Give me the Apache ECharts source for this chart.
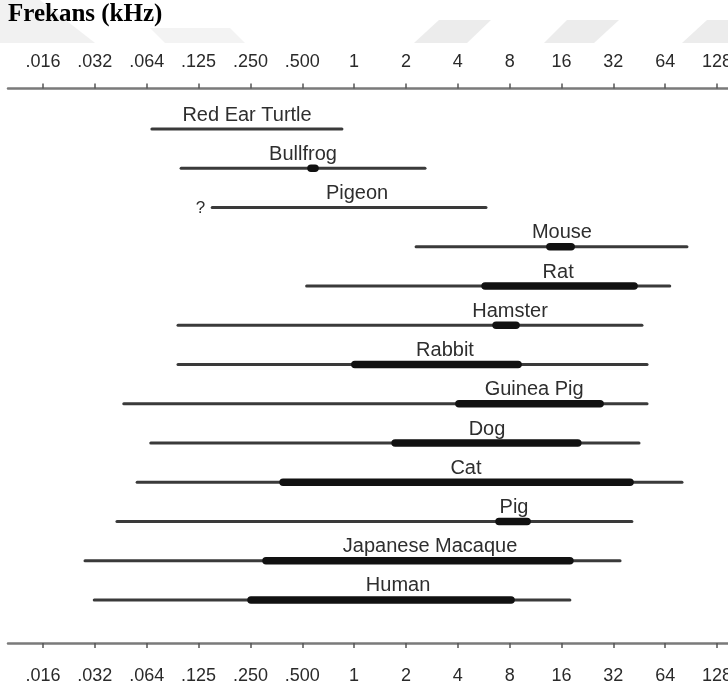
<!DOCTYPE html>
<html>
<head>
<meta charset="utf-8">
<script src="https://cdn.jsdelivr.net/npm/echarts@6/dist/echarts.min.js"></script>
<style>
html,body{margin:0;padding:0;background:#fff;}
#chart{width:728px;height:687px;}
</style>
</head>
<body>
<div id="chart"></div>
<script>
// ---- data (kHz) ----
const categories = ['Red Ear Turtle','Bullfrog','Pigeon','Mouse','Rat','Hamster','Rabbit','Guinea Pig','Dog','Cat','Pig','Japanese Macaque','Human'];
const rangeLow  = [0.067, 0.099, 0.15, 2.29, 0.53, 0.095, 0.095, 0.046, 0.066, 0.055, 0.042, 0.0274, 0.031];
const rangeHigh = [0.85, 2.58, 5.83, 85.6, 68, 46.9, 50.2, 50.2, 45.1, 80.1, 41, 35.0, 17.9];
const bestLow   = [null, 0.562, null, 13.7, 5.76, 6.67, 1.01, 4.06, 1.73, 0.387, 6.94, 0.308, 0.252];
const bestHigh  = [null, 0.593, null, 18.2, 42.2, 8.71, 8.95, 26.8, 19.9, 40.0, 10.1, 17.9, 8.15];
const labelAt   = [0.239, 0.505, 1.04, 16.1, 15.3, 8.04, 3.37, 11.1, 5.91, 4.46, 8.48, 2.76, 1.80];
const notes     = ['', '', '?', '', '', '', '', '', '', '', '', '', ''];
const tickKHz    = [0.015625, 0.03125, 0.0625, 0.125, 0.25, 0.5, 1, 2, 4, 8, 16, 32, 64, 128];
const tickLabels = ['.016', '.032', '.064', '.125', '.250', '.500', '1', '2', '4', '8', '16', '32', '64', '128'];
const titleText = 'Frekans (kHz)';

// ---- build ----
const L = v => (v == null ? NaN : Math.log2(v));
const tickPos = tickKHz.map(L);
const labelMap = {};
tickPos.forEach((p, i) => { labelMap[p.toFixed(4)] = tickLabels[i]; });

const seriesData = categories.map((c, i) => [
  L(rangeLow[i]), L(rangeHigh[i]), L(bestLow[i]), L(bestHigh[i]), L(labelAt[i]), i
]);

const axisCommon = {
  type: 'value',
  min: -6.675,
  max: 7.211,
  splitLine: { show: false },
  axisLine: { show: true, lineStyle: { color: '#7a7a7a', width: 2.5 } },
  axisTick: { show: true, length: 5, customValues: tickPos, lineStyle: { color: '#555', width: 1.5 } },
  axisLabel: {
    customValues: tickPos,
    formatter: v => labelMap[Number(v).toFixed(4)] || '',
    fontFamily: 'Liberation Sans, Arial, sans-serif',
    fontSize: 18,
    color: '#2a2a2a',
    showMaxLabel: true
  }
};

const chart = echarts.init(document.getElementById('chart'), null, { renderer: 'canvas' });
chart.setOption({
  animation: false,
  backgroundColor: '#fff',
  graphic: [
    { type: 'polygon', z: -10, silent: true, shape: { points: [[0,0],[40,0],[95,43],[0,43]] }, style: { fill: '#f1f1f1' } },
    { type: 'polygon', z: -10, silent: true, shape: { points: [[150,28],[230,28],[245,43],[165,43]] }, style: { fill: '#f3f3f3' } },
    { type: 'polygon', z: -10, silent: true, shape: { points: [[439,20],[491,20],[467,43],[414,43]] }, style: { fill: '#ececec' } },
    { type: 'polygon', z: -10, silent: true, shape: { points: [[567,20],[619,20],[594,43],[544,43]] }, style: { fill: '#ececec' } },
    { type: 'polygon', z: -10, silent: true, shape: { points: [[707,20],[740,20],[740,43],[682,43]] }, style: { fill: '#ececec' } },
    { type: 'text', left: 8, top: 2, style: { text: titleText, font: 'bold 25px "Liberation Serif", "Times New Roman", serif', fill: '#000' } }
  ],
  grid: { left: 8, right: 0, top: 109.4, bottom: 67.4, containLabel: false, outerBoundsMode: 'none' },
  xAxis: [
    Object.assign({}, axisCommon, { position: 'bottom', offset: 23.4, axisLabel: Object.assign({}, axisCommon.axisLabel, { margin: 24 }) }),
    Object.assign({}, axisCommon, { position: 'top', offset: 21, axisLabel: Object.assign({}, axisCommon.axisLabel, { margin: 17 }) })
  ],
  yAxis: {
    type: 'category',
    data: categories,
    inverse: true,
    show: false
  },
  series: [{
    type: 'custom',
    xAxisIndex: 0,
    silent: true,
    encode: { x: [0, 1], y: 5 },
    data: seriesData,
    renderItem: function (params, api) {
      const i = params.dataIndex;
      const row = api.value(5);
      const p1 = api.coord([api.value(0), row]);
      const p2 = api.coord([api.value(1), row]);
      const children = [{
        type: 'line',
        shape: { x1: p1[0], y1: p1[1], x2: p2[0], y2: p2[1] },
        style: { stroke: '#3a3a3a', lineWidth: 3, lineCap: 'round' }
      }];
      const t1 = api.value(2), t2 = api.value(3);
      if (!isNaN(t1) && !isNaN(t2)) {
        const q1 = api.coord([t1, row]);
        const q2 = api.coord([t2, row]);
        children.push({
          type: 'line',
          shape: { x1: q1[0], y1: q1[1], x2: q2[0], y2: q2[1] },
          style: { stroke: '#111', lineWidth: 7.5, lineCap: 'round' }
        });
      }
      const pl = api.coord([api.value(4), row]);
      children.push({
        type: 'text',
        x: pl[0], y: pl[1] - 4,
        style: { text: categories[i], font: '20px "Liberation Sans", Arial, sans-serif', fill: '#2e2e2e', align: 'center', verticalAlign: 'bottom' }
      });
      if (notes[i]) {
        children.push({
          type: 'text',
          x: p1[0] - 7, y: p1[1] + 1,
          style: { text: notes[i], font: '17px "Liberation Sans", Arial, sans-serif', fill: '#2e2e2e', align: 'right', verticalAlign: 'middle' }
        });
      }
      return { type: 'group', children: children };
    }
  }]
});
</script>
</body>
</html>
